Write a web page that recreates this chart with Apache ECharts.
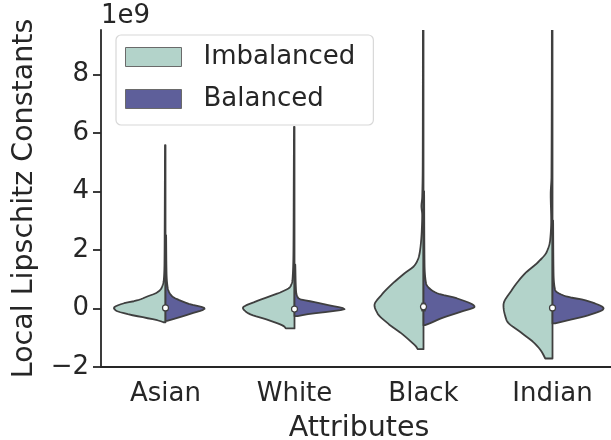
<!DOCTYPE html>
<html>
<head>
<meta charset="utf-8">
<script src="https://cdn.jsdelivr.net/npm/echarts@6/dist/echarts.min.js"></script>
<style>
  html, body { margin: 0; padding: 0; background: #ffffff; }
  #chart { width: 611px; height: 440px; }
</style>
</head>
<body>
<div id="chart"></div>
<script>
// Categories, groups and axis ticks
const categories = ['Asian', 'White', 'Black', 'Indian'];
const groups = ['Imbalanced', 'Balanced'];
const yTicks = [-2, 0, 2, 4, 6, 8];
const yMin = -2;
const yMax = 9.52;

// Kernel density outlines, bottom to top: [value (x1e9), half-width relative to the widest violin]
const imbalancedAsian = [[-0.47, 0.04], [-0.42, 0.12], [-0.31, 0.41], [-0.17, 0.79], [-0.06, 0.97], [0.02, 1.0], [0.15, 0.86], [0.28, 0.54], [0.42, 0.34], [0.53, 0.18], [0.68, 0.083], [0.97, 0.033], [1.5, 0.02], [3.0, 0.015], [5.58, 0.01]];
const imbalancedWhite = [[-0.68, 0.17], [-0.63, 0.19], [-0.4, 0.5], [-0.17, 0.89], [0.02, 1.0], [0.23, 0.76], [0.4, 0.5], [0.57, 0.25], [0.74, 0.083], [0.97, 0.039], [2.0, 0.02], [4.0, 0.015], [6.21, 0.01]];
const imbalancedBlack = [[-1.39, 0.11], [-1.31, 0.14], [-1.14, 0.24], [-0.85, 0.43], [-0.51, 0.69], [-0.17, 0.89], [0.11, 0.95], [0.45, 0.82], [0.8, 0.63], [1.2, 0.37], [1.48, 0.17], [1.77, 0.09], [2.1, 0.058], [2.68, 0.033], [3.2, 0.025], [3.5, 0.04], [3.8, 0.025], [5.0, 0.015], [12.0, 0.01]];
const imbalancedIndian = [[-1.71, 0.14], [-1.48, 0.21], [-1.2, 0.34], [-0.85, 0.59], [-0.4, 0.89], [0.11, 0.95], [0.63, 0.79], [1.2, 0.53], [1.6, 0.27], [1.94, 0.11], [2.34, 0.045], [3.0, 0.025], [3.9, 0.035], [4.5, 0.02], [12.0, 0.01]];

const balancedAsian = [[-0.42, 0.03], [-0.38, 0.11], [-0.17, 0.5], [0.0, 0.76], [0.17, 0.43], [0.45, 0.11], [0.68, 0.045], [1.2, 0.02], [2.5, 0.012]];
const balancedWhite = [[-0.26, 0.06], [-0.19, 0.27], [-0.11, 0.66], [-0.02, 0.97], [0.11, 0.66], [0.26, 0.27], [0.34, 0.078], [0.6, 0.03], [1.5, 0.015]];
const balancedBlack = [[-0.57, 0.03], [-0.51, 0.12], [-0.34, 0.34], [-0.11, 0.73], [0.06, 0.99], [0.34, 0.66], [0.51, 0.28], [0.68, 0.12], [0.85, 0.05], [1.5, 0.02], [4.0, 0.012]];
const balancedIndian = [[-0.51, 0.05], [-0.4, 0.31], [-0.23, 0.7], [0.0, 0.99], [0.28, 0.63], [0.42, 0.25], [0.63, 0.05], [1.2, 0.02], [3.0, 0.012]];

// Inner box statistics per category (x1e9)
const medians = [0.02, -0.02, 0.06, 0.02];
const q1 = [-0.03, -0.05, -0.1, -0.05];
const q3 = [0.05, 0.04, 0.2, 0.08];

const imbalancedProfiles = [imbalancedAsian, imbalancedWhite, imbalancedBlack, imbalancedIndian];
const balancedProfiles = [balancedAsian, balancedWhite, balancedBlack, balancedIndian];

const colorImbalanced = '#b3d3ca';
const colorBalanced = '#5e5f9a';
const edgeColor = '#3f3f3f';
const textColor = '#262626';
const font = 'DejaVu Sans';

// Monotone cubic (Fritsch-Carlson) interpolation of half-width along the value axis
function monotoneSampler(xs, ys) {
  const n = xs.length;
  const dx = [], m = [], t = new Array(n);
  for (let i = 0; i < n - 1; i++) {
    dx.push(xs[i + 1] - xs[i]);
    m.push((ys[i + 1] - ys[i]) / (xs[i + 1] - xs[i]));
  }
  t[0] = m[0];
  t[n - 1] = m[n - 2];
  for (let i = 1; i < n - 1; i++) {
    if (m[i - 1] * m[i] <= 0) t[i] = 0;
    else {
      const w1 = 2 * dx[i] + dx[i - 1], w2 = dx[i] + 2 * dx[i - 1];
      t[i] = (w1 + w2) / (w1 / m[i - 1] + w2 / m[i]);
    }
  }
  return function (x) {
    let i = 0;
    while (i < n - 2 && x > xs[i + 1]) i++;
    const h = dx[i], s = (x - xs[i]) / h;
    const h00 = (1 + 2 * s) * (1 - s) * (1 - s), h10 = s * (1 - s) * (1 - s);
    const h01 = s * s * (3 - 2 * s), h11 = s * s * (s - 1);
    return h00 * ys[i] + h10 * h * t[i] + h01 * ys[i + 1] + h11 * h * t[i + 1];
  };
}

function makeViolinRenderer(profiles, side, color) {
  return function (params, api) {
    const idx = api.value(0);
    const profile = profiles[idx];
    const band = api.size([1, 0])[0];
    const maxHalf = band * 0.4;
    const cx = api.coord([idx, 0])[0];
    const vs = profile.map(function (p) { return p[0]; });
    const ws = profile.map(function (p) { return p[1]; });
    const widthAt = monotoneSampler(vs, ws);
    const vLo = vs[0], vHi = vs[vs.length - 1];
    const pxLo = api.coord([idx, vLo])[1];
    const pxHi = api.coord([idx, vHi])[1];
    const steps = Math.max(40, Math.ceil(Math.abs(pxLo - pxHi) / 1.0));
    const pts = [[cx, pxLo]];
    for (let k = 0; k <= steps; k++) {
      const v = vLo + (vHi - vLo) * k / steps;
      const w = Math.max(0, widthAt(v));
      pts.push([cx + side * w * maxHalf, api.coord([idx, v])[1]]);
    }
    pts.push([cx, pxHi]);
    return {
      type: 'polygon',
      shape: { points: pts },
      style: { fill: color, stroke: edgeColor, lineWidth: 1.8, lineJoin: 'round' }
    };
  };
}

function renderBox(params, api) {
  const idx = api.value(0);
  const top = api.coord([idx, q3[idx]]);
  const bottom = api.coord([idx, q1[idx]]);
  const mid = api.coord([idx, medians[idx]]);
  return {
    type: 'group',
    children: [
      {
        type: 'line',
        shape: { x1: top[0], y1: top[1], x2: bottom[0], y2: bottom[1] },
        style: { stroke: edgeColor, lineWidth: 4.5 }
      },
      {
        type: 'circle',
        shape: { cx: mid[0], cy: mid[1], r: 3 },
        style: { fill: '#ffffff', stroke: edgeColor, lineWidth: 1.2 }
      }
    ]
  };
}

const indexData = categories.map(function (c, i) { return [i, medians[i]]; });

const chart = echarts.init(document.getElementById('chart'), null, { renderer: 'canvas' });
chart.setOption({
  animation: false,
  backgroundColor: '#ffffff',
  title: {
    text: '1e9',
    left: 101,
    top: 3,
    padding: 0,
    textStyle: { fontFamily: font, fontSize: 26, fontWeight: 'normal', color: textColor }
  },
  legend: {
    orient: 'vertical',
    left: 116,
    top: 35,
    padding: [9, 18, 13, 9],
    itemWidth: 56,
    itemHeight: 19,
    itemGap: 16,
    backgroundColor: '#ffffff',
    borderColor: '#d8d8d8',
    borderWidth: 1.2,
    borderRadius: 5,
    textStyle: { fontFamily: font, fontSize: 26, color: textColor, padding: [0, 0, 0, 17] },
    data: [
      { name: 'Imbalanced', icon: 'rect', itemStyle: { color: colorImbalanced, borderColor: '#6a6a6a', borderWidth: 1 } },
      { name: 'Balanced', icon: 'rect', itemStyle: { color: colorBalanced, borderColor: '#6a6a6a', borderWidth: 1 } }
    ]
  },
  grid: { left: 101, right: -6, top: 30, bottom: 73, containLabel: false, outerBoundsMode: 'none' },
  xAxis: {
    type: 'category',
    data: categories,
    boundaryGap: true,
    name: 'Attributes',
    nameLocation: 'middle',
    nameGap: 47,
    nameTextStyle: { fontFamily: font, fontSize: 28.5, color: textColor },
    axisLine: { onZero: false, lineStyle: { color: textColor, width: 1.8 } },
    axisTick: { alignWithLabel: true, length: 8, lineStyle: { color: textColor, width: 1.8 } },
    axisLabel: { fontFamily: font, fontSize: 26, color: textColor, margin: 14 },
    splitLine: { show: false }
  },
  yAxis: {
    type: 'value',
    min: yMin,
    max: yMax,
    interval: 2,
    name: 'Local Lipschitz Constants',
    nameLocation: 'middle',
    nameGap: 62,
    nameTextStyle: { fontFamily: font, fontSize: 28.5, color: textColor },
    axisLine: { show: true, lineStyle: { color: textColor, width: 1.8 } },
    axisTick: { show: true, length: 8, lineStyle: { color: textColor, width: 1.8 } },
    axisLabel: {
      fontFamily: font, fontSize: 26, color: textColor, margin: 12,
      showMaxLabel: false,
      formatter: function (v) {
        if (yTicks.indexOf(v) < 0) return '';
        return v < 0 ? '\u2212' + Math.abs(v) : String(v);
      }
    },
    splitLine: { show: false }
  },
  series: [
    {
      name: 'Imbalanced',
      type: 'custom',
      clip: true,
      itemStyle: { color: colorImbalanced },
      renderItem: makeViolinRenderer(imbalancedProfiles, -1, colorImbalanced),
      data: indexData,
      z: 2
    },
    {
      name: 'Balanced',
      type: 'custom',
      clip: true,
      itemStyle: { color: colorBalanced },
      renderItem: makeViolinRenderer(balancedProfiles, 1, colorBalanced),
      data: indexData,
      z: 2
    },
    {
      name: 'inner',
      type: 'custom',
      clip: true,
      renderItem: renderBox,
      data: indexData,
      z: 3
    }
  ]
});
</script>
</body>
</html>
